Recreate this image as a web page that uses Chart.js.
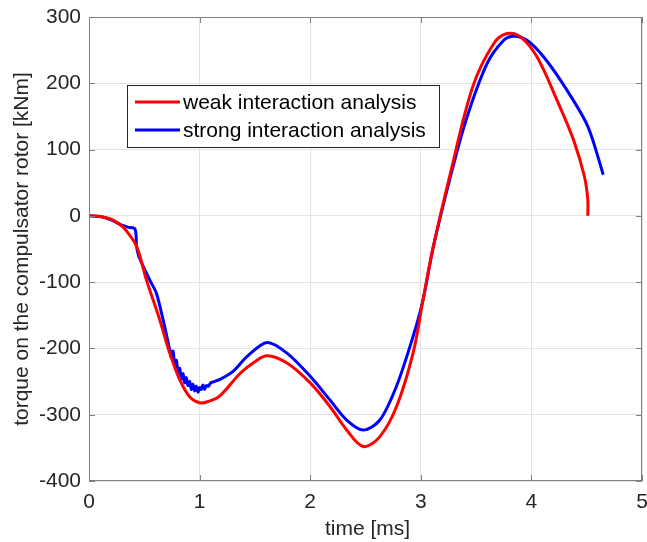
<!DOCTYPE html>
<html>
<head>
<meta charset="utf-8">
<script src="https://cdn.jsdelivr.net/npm/chart.js@4"></script>
<style>
html,body{margin:0;padding:0;background:#fff;}
#wrap{width:647px;height:542px;}
</style>
</head>
<body>
<div id="wrap"><canvas id="torqueChart" width="647" height="542"></canvas></div>
<script>
// time [ms] and torque [kNm]
var timeWeak = [0, 0.1, 0.2, 0.28, 0.33, 0.43, 0.52, 0.64, 0.73, 0.82, 0.91, 1.0, 1.08, 1.18, 1.37, 1.5, 1.61, 1.79, 2.0, 2.18, 2.33, 2.48, 2.63, 2.78, 2.93, 3.02, 3.11, 3.26, 3.47, 3.66, 3.78, 3.9, 4.05, 4.23, 4.38, 4.48, 4.51, 4.51];
var torqueWeak = [0, -1, -5, -13, -21, -46, -97, -157, -207, -247, -273, -282, -280, -272, -237, -220, -211, -222, -252, -288, -323, -348, -333, -288, -207, -127, -49, 59, 195, 260, 275, 270, 240, 175, 115, 59, 24, 0];

var timeStrong = [0, 0.1, 0.2, 0.28, 0.35, 0.416, 0.43, 0.45, 0.55, 0.61, 0.67, 0.73, 0.745, 0.76, 0.775, 0.79, 0.805, 0.82, 0.835, 0.85, 0.865, 0.88, 0.895, 0.91, 0.925, 0.94, 0.955, 0.97, 0.985, 1.0, 1.015, 1.03, 1.045, 1.06, 1.08, 1.1, 1.18, 1.3, 1.43, 1.61, 1.79, 2.0, 2.18, 2.33, 2.48, 2.63, 2.78, 2.93, 3.02, 3.11, 3.26, 3.41, 3.6, 3.75, 3.84, 3.96, 4.11, 4.32, 4.51, 4.65];
var torqueStrong = [0, -1, -6, -13, -17, -20, -46, -61, -97, -117, -157, -202, -214, -204, -224, -218, -236, -230, -246, -238, -252, -244, -256, -250, -262, -254, -264, -257, -266, -259, -262, -255, -262, -256, -257, -252, -247, -235, -212, -191, -207, -242, -278, -308, -323, -308, -257, -182, -127, -49, 54, 145, 230, 265, 271, 265, 240, 190, 135, 62];

var seriesLabels = ["weak interaction analysis", "strong interaction analysis"];
var xTitle = "time [ms]";
var yTitle = "torque on the compulsator rotor [kNm]";
var xTicks = [0, 1, 2, 3, 4, 5];
var yTicks = [-400, -300, -200, -100, 0, 100, 200, 300];

function toPoints(xs, ys){
    var pts = [];
    for(var i=0;i<xs.length;i++){
        pts.push({x: xs[i], y: ys[i]});
    }
    return pts;
}

var axisColor = "#808080";
var textColor = "#262626";
var fontFamily = "'Liberation Sans', Arial, sans-serif";

// box around the plot area plus inward tick marks, like the original figure
var boxPlugin = {
    id: "box",
    afterDatasetsDraw: function(chart){
        var a = chart.chartArea, ctx = chart.ctx;
        var xs = chart.scales.x, ys = chart.scales.y;
        ctx.save();
        ctx.strokeStyle = axisColor;
        ctx.lineWidth = 1;
        ctx.strokeRect(a.left + 0.5, a.top + 0.5, a.right - a.left - 1, a.bottom - a.top - 1);
        ctx.beginPath();
        xTicks.forEach(function(t){
            var px = Math.round(xs.getPixelForValue(t)) + 0.5;
            ctx.moveTo(px, a.bottom); ctx.lineTo(px, a.bottom - 6);
            ctx.moveTo(px, a.top); ctx.lineTo(px, a.top + 6);
        });
        yTicks.forEach(function(t){
            var py = Math.round(ys.getPixelForValue(t)) + 0.5;
            ctx.moveTo(a.left, py); ctx.lineTo(a.left + 6, py);
            ctx.moveTo(a.right, py); ctx.lineTo(a.right - 6, py);
        });
        ctx.stroke();
        ctx.restore();
    }
};

// axis titles and the legend box inside the plot
var textPlugin = {
    id: "texts",
    afterDraw: function(chart){
        var ctx = chart.ctx;
        var a = chart.chartArea;
        ctx.save();
        ctx.fillStyle = textColor;
        ctx.textAlign = "center";
        ctx.textBaseline = "middle";
        ctx.font = "21px " + fontFamily;
        ctx.fillText(xTitle, (a.left + a.right) / 2 + 2, 529);
        ctx.save();
        ctx.translate(22, (a.top + a.bottom) / 2);
        ctx.rotate(-Math.PI / 2);
        ctx.fillText(yTitle, 0, 0);
        ctx.restore();

        // legend
        var left = 127, top = 85, w = 312, h = 62;
        ctx.fillStyle = "#fff";
        ctx.fillRect(left, top, w, h);
        ctx.strokeStyle = "#262626";
        ctx.lineWidth = 1;
        ctx.strokeRect(left + 0.5, top + 0.5, w, h);
        ctx.textAlign = "left";
        chart.data.datasets.forEach(function(ds, i){
            var y = top + 17 + i * 28;
            ctx.strokeStyle = ds.borderColor;
            ctx.lineWidth = 3;
            ctx.beginPath();
            ctx.moveTo(135, y); ctx.lineTo(180, y);
            ctx.stroke();
            ctx.fillStyle = "#000";
            ctx.fillText(ds.label, 183, y + 1);
        });
        ctx.restore();
    }
};

var ctx = document.getElementById("torqueChart");
var chart = new Chart(ctx, {
    type: "line",
    data: {
        datasets: [{
            label: seriesLabels[0],
            data: toPoints(timeWeak, torqueWeak),
            borderColor: "#ff0000",
            borderWidth: 3,
            pointRadius: 0,
            fill: false,
            tension: 0.35
        }, {
            label: seriesLabels[1],
            data: toPoints(timeStrong, torqueStrong),
            borderColor: "#0000ff",
            borderWidth: 3,
            pointRadius: 0,
            fill: false,
            tension: 0.3
        }]
    },
    options: {
        responsive: false,
        animation: false,
        layout: {padding: {top: 17, right: 5, left: 0, bottom: 0}},
        plugins: {
            legend: {display: false},
            tooltip: {enabled: false}
        },
        scales: {
            x: {
                type: "linear",
                min: 0, max: 5,
                afterBuildTicks: function(s){ s.ticks = xTicks.map(function(v){ return {value: v}; }); },
                afterFit: function(s){ s.height = 61; s.paddingLeft = 0; s.paddingRight = 0; },
                grid: {color: "#e3e3e3", drawTicks: false},
                border: {display: false},
                ticks: {color: textColor, font: {size: 21, family: fontFamily}, padding: 9, maxRotation: 0}
            },
            y: {
                min: -400, max: 300,
                afterBuildTicks: function(s){ s.ticks = yTicks.map(function(v){ return {value: v}; }); },
                afterFit: function(s){ s.width = 89; s.paddingTop = 0; s.paddingBottom = 0; },
                grid: {color: "#e3e3e3", drawTicks: false},
                border: {display: false},
                ticks: {color: textColor, font: {size: 21, family: fontFamily}, padding: 8}
            }
        }
    },
    plugins: [boxPlugin, textPlugin]
});
</script>
</body>
</html>
